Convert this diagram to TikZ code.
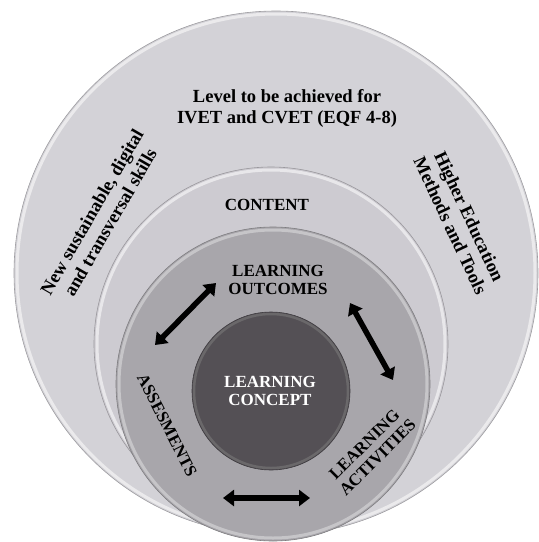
\documentclass[tikz,border=0pt]{standalone}
\usepackage{fontspec}
\setmainfont{Liberation Serif}
\usetikzlibrary{arrows.meta}

\definecolor{ringouter}{RGB}{211,210,215}
\definecolor{ringcontent}{RGB}{205,203,209}
\definecolor{ringmid}{RGB}{168,166,171}
\definecolor{core}{RGB}{84,80,85}

\begin{document}
\begin{tikzpicture}
  [x=1pt, y=-1pt,
   disc/.style={circle, inner sep=0pt, draw=#1!75!black, fill=#1, line width=0.6pt},
   rim/.style={draw=white, opacity=0.55, line width=3pt},
   ringtext/.style={font=\bfseries\fontsize{18.5}{21}\selectfont, align=center, inner sep=0pt},
   smalltext/.style={font=\bfseries\fontsize{17}{18.5}\selectfont, align=center, inner sep=0pt},
   cycle/.style={{Triangle[length=11pt,width=16pt]}-{Triangle[length=11pt,width=16pt]}, line width=5.5pt}]
  \useasboundingbox (0,0) rectangle (539,542);

  % discs, from outside in
  \node[disc=ringouter, minimum size=524pt] (outer) at (276,273) {};
  \draw[rim] (276,273) circle[radius=259pt];
  \node[disc=ringcontent, minimum size=354pt] (content) at (271,344) {};
  \draw[rim] (271,344) circle[radius=174pt];
  \node[disc=ringmid, minimum size=314pt] (mid) at (273,384) {};
  \draw[rim, opacity=0.35] (273,384) circle[radius=154pt];
  \node[disc=core, minimum size=158pt] (core) at (271,391) {};
  \draw[draw=gray, opacity=0.5, line width=2.5pt] (271,391) circle[radius=77pt];

  % outer ring texts
  \node[ringtext] (level) at (287,108) {Level to be achieved for\\IVET and CVET (EQF 4-8)};
  \node[ringtext, rotate=60] (skills) at (101,217) {New sustainable, digital\\and transversal skills};
  \node[ringtext, rotate=-65] (higher) at (460,221) {Higher Education\\Methods and Tools};

  % inner texts
  \node[smalltext] (cont) at (267,205) {CONTENT};
  \node[smalltext] (outcomes) at (278,280) {LEARNING\\OUTCOMES};
  \node[smalltext, text=white] (concept) at (270,391) {LEARNING\\CONCEPT};
  \node[smalltext, rotate=-63] (assess) at (167,425) {ASSESMENTS};
  \node[smalltext, rotate=45] (activities) at (371,451) {LEARNING\\ACTIVITIES};

  % arrow ends
  \coordinate (a1s) at (155,345);
  \coordinate (a1e) at (216,283);
  \coordinate (a2s) at (350,303);
  \coordinate (a2e) at (393,380);
  \coordinate (a3s) at (223,498);
  \coordinate (a3e) at (310,498);

  \draw[cycle] (a1s) -- (a1e);
  \draw[cycle] (a2s) -- (a2e);
  \draw[cycle] (a3s) -- (a3e);
\end{tikzpicture}
\end{document}
